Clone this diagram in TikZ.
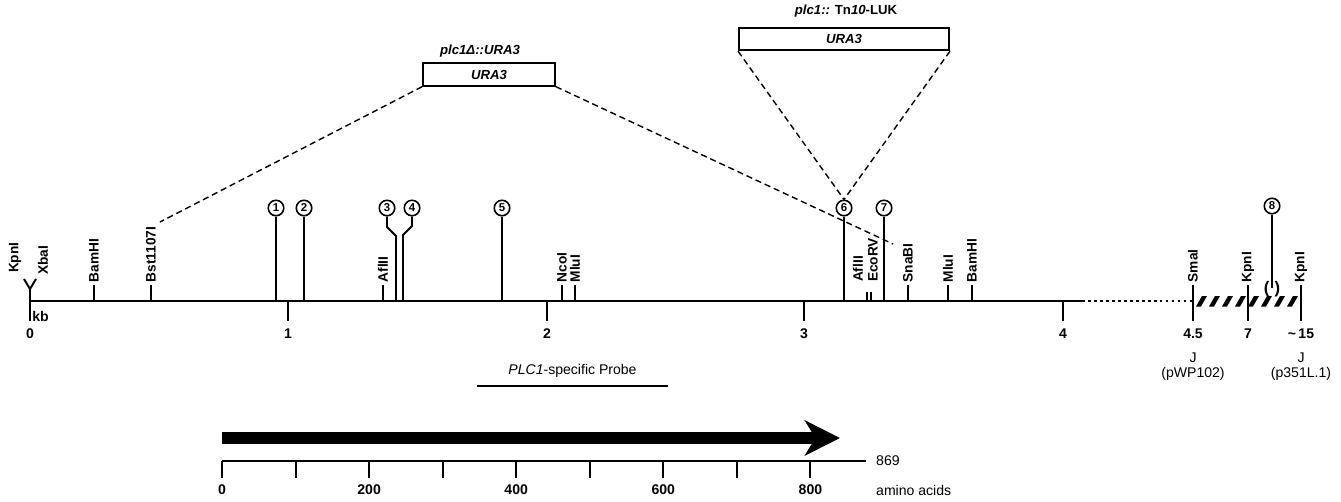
\documentclass[tikz,border=0pt]{standalone}
\usepackage{fontspec}
\setmainfont{Liberation Sans}
\usetikzlibrary{calc,arrows.meta}
\tikzset{
  mapline/.style={line width=1.5pt},
  dotline/.style={line width=1.5pt,dash pattern=on 1.6pt off 1.8pt},
  sitetick/.style={line width=1.1pt},
  sitelbl/.style={rotate=90,anchor=west,inner sep=1pt,font=\fontsize{7.8}{8}\selectfont\bfseries},
  kblbl/.style={font=\fontsize{8}{9}\selectfont\bfseries},
  numcirc/.style={circle,draw,line width=0.9pt,minimum size=0.31cm,inner sep=0pt,font=\fontsize{6.5}{7}\selectfont\bfseries},
  numline/.style={line width=1.1pt},
  insbox/.style={draw,line width=1.1pt,minimum height=0.45cm,inner sep=0pt,font=\fontsize{7.5}{8}\selectfont\bfseries\itshape},
  institle/.style={font=\fontsize{7.5}{8}\selectfont\bfseries},
  joinline/.style={line width=0.8pt,dash pattern=on 3.5pt off 2.2pt},
  plainlbl/.style={font=\fontsize{8}{9}\selectfont},
}
\def\site#1#2#3{\draw[sitetick] (#1,301) -- (#1,285) node[sitelbl] (#2) {#3};}

\begin{document}
\begin{tikzpicture}[x=0.02cm,y=-0.02cm]
	\useasboundingbox (0,0) rectangle (1341,501);
	%%%%% MAP %%%%%
	
	\draw[mapline] (30,301) -- (1082,301);
	\draw[dotline] (1082,301) -- (1193,301);
	\foreach \x in {1196,1209,...,1290}
		\fill (\x,306.5) -- (\x+5,306.5) -- (\x+11,296) -- (\x+6,296) -- cycle;
	
	% kb ticks
	\foreach \k/\x in {0/30,1/288,2/547,3/804,4/1063}{
		\draw[sitetick] (\x,301) -- (\x,321);
		\node[kblbl] (kb\k) at (\x,334) {\k};
	}
	\node[kblbl,anchor=west,inner sep=0pt] (kbunit) at (32,316) {kb};
	\draw[sitetick] (1193,285) -- (1193,321);
	\draw[sitetick] (1248,285) -- (1248,321);
	\draw[sitetick] (1301,285) -- (1301,321);
	\node[kblbl] (kb45) at (1193,334) {4.5};
	\node[kblbl] (kb7) at (1248,334) {7};
	\node[kblbl] (kb15) at (1301,334) {\textasciitilde\,15};
	\node[plainlbl] (jA) at (1193,358) {J};
	\node[plainlbl] (pA) at (1193,374) {(pWP102)};
	\node[plainlbl] (jB) at (1301,358) {J};
	\node[plainlbl] (pB) at (1301,374) {(p351L.1)};
	
	% sites
	\draw[sitetick] (30,301) -- (30,289) -- (24,279);
	\draw[sitetick] (30,289) -- (36,279);
	\node[sitelbl] (kpnA) at (15,275) {KpnI};
	\node[sitelbl] (xba) at (43,277) {XbaI};
	\site{94}{bamA}{BamHI}
	\site{151}{bst}{Bst1107I}
	\site{383}{aflA}{AflII}
	\site{562}{nco}{NcoI}
	\site{575}{mluA}{MluI}
	\draw[sitetick] (867,301) -- (867,292);
	\draw[sitetick] (871,301) -- (871,292);
	\node[sitelbl] (aflB) at (858,284) {AflII};
	\node[sitelbl] (eco) at (873,284) {EcoRV};
	\site{908}{sna}{SnaBI}
	\site{948}{mluB}{MluI}
	\site{972}{bamB}{BamHI}
	\site{1193}{sma}{SmaI}
	\site{1248}{kpnB}{KpnI}
	\site{1301}{kpnC}{KpnI}
	
	% numbered positions
	\node[numcirc] (c1) at (276,208) {1};
	\node[numcirc] (c2) at (304,208) {2};
	\node[numcirc] (c3) at (387,208) {3};
	\node[numcirc] (c4) at (412,208) {4};
	\node[numcirc] (c5) at (502,208) {5};
	\node[numcirc] (c6) at (844,208) {6};
	\node[numcirc] (c7) at (884,208) {7};
	\node[numcirc] (c8) at (1272,206) {8};
	\draw[numline] (c1) -- (276,301);
	\draw[numline] (c2) -- (304,301);
	\draw[numline] (c3) -- (387,227) -- (396,236) -- (396,301);
	\draw[numline] (c4) -- (412,226) -- (403,235) -- (403,301);
	\draw[numline] (c5) -- (502,301);
	\draw[numline] (c6) -- (844,301);
	\draw[numline] (c7) -- (884,301);
	\draw[numline] (c8) -- (1272,288);
	\node[font=\fontsize{9.5}{10}\selectfont\bfseries] (paren) at (1272,289) {(\hspace{3pt})};
	
	%%%%% INSERTS %%%%%
	
	\node[insbox,minimum width=2.64cm] (boxA) at (489,74.5) {URA3};
	\node[institle] (titleA) at (480,51) {\textit{plc1Δ::URA3}};
	\node[insbox,minimum width=4.2cm] (boxB) at (844,39) {URA3};
	\node[institle] (titleB) at (846,11) {\textit{plc1::} Tn\textit{10}-LUK};
	\coordinate (delL) at (160,222);
	\coordinate (delR) at (893,244);
	\draw[joinline] (boxA.south west) -- (delL);
	\draw[joinline] (boxA.south east) -- (delR);
	\draw[joinline] (boxB.south west) -- (c6.north);
	\draw[joinline] (boxB.south east) -- (c6.north);
	
	%%%%% PROTEIN %%%%%
	
	\coordinate (pbA) at (477,386);
	\coordinate (pbB) at (668,386);
	\draw[line width=1.4pt] (pbA) -- (pbB) node[midway,above=1pt,plainlbl] (probe) {\textit{PLC1}-specific Probe};
	\coordinate (orfA) at (222,438);
	\coordinate (orfB) at (840,438);
	\draw[line width=6.5pt,-{Stealth[length=20pt,width=20pt,inset=6pt]}] (orfA) -- (orfB);
	
	\draw[mapline] (222,461) -- (866,461);
	\foreach \a in {0,100,...,800}
		\draw[sitetick] (222+\a*0.7355,461) -- (222+\a*0.7355,478);
	\foreach \a in {0,200,400,600,800}
		\node[kblbl] (aa\a) at (222+\a*0.7355,490) {\a};
	\node[plainlbl,anchor=west] (aaend) at (870,461) {869};
	\node[plainlbl,anchor=west] (aaunit) at (870,490) {amino acids};
	
\end{tikzpicture}
\end{document}
